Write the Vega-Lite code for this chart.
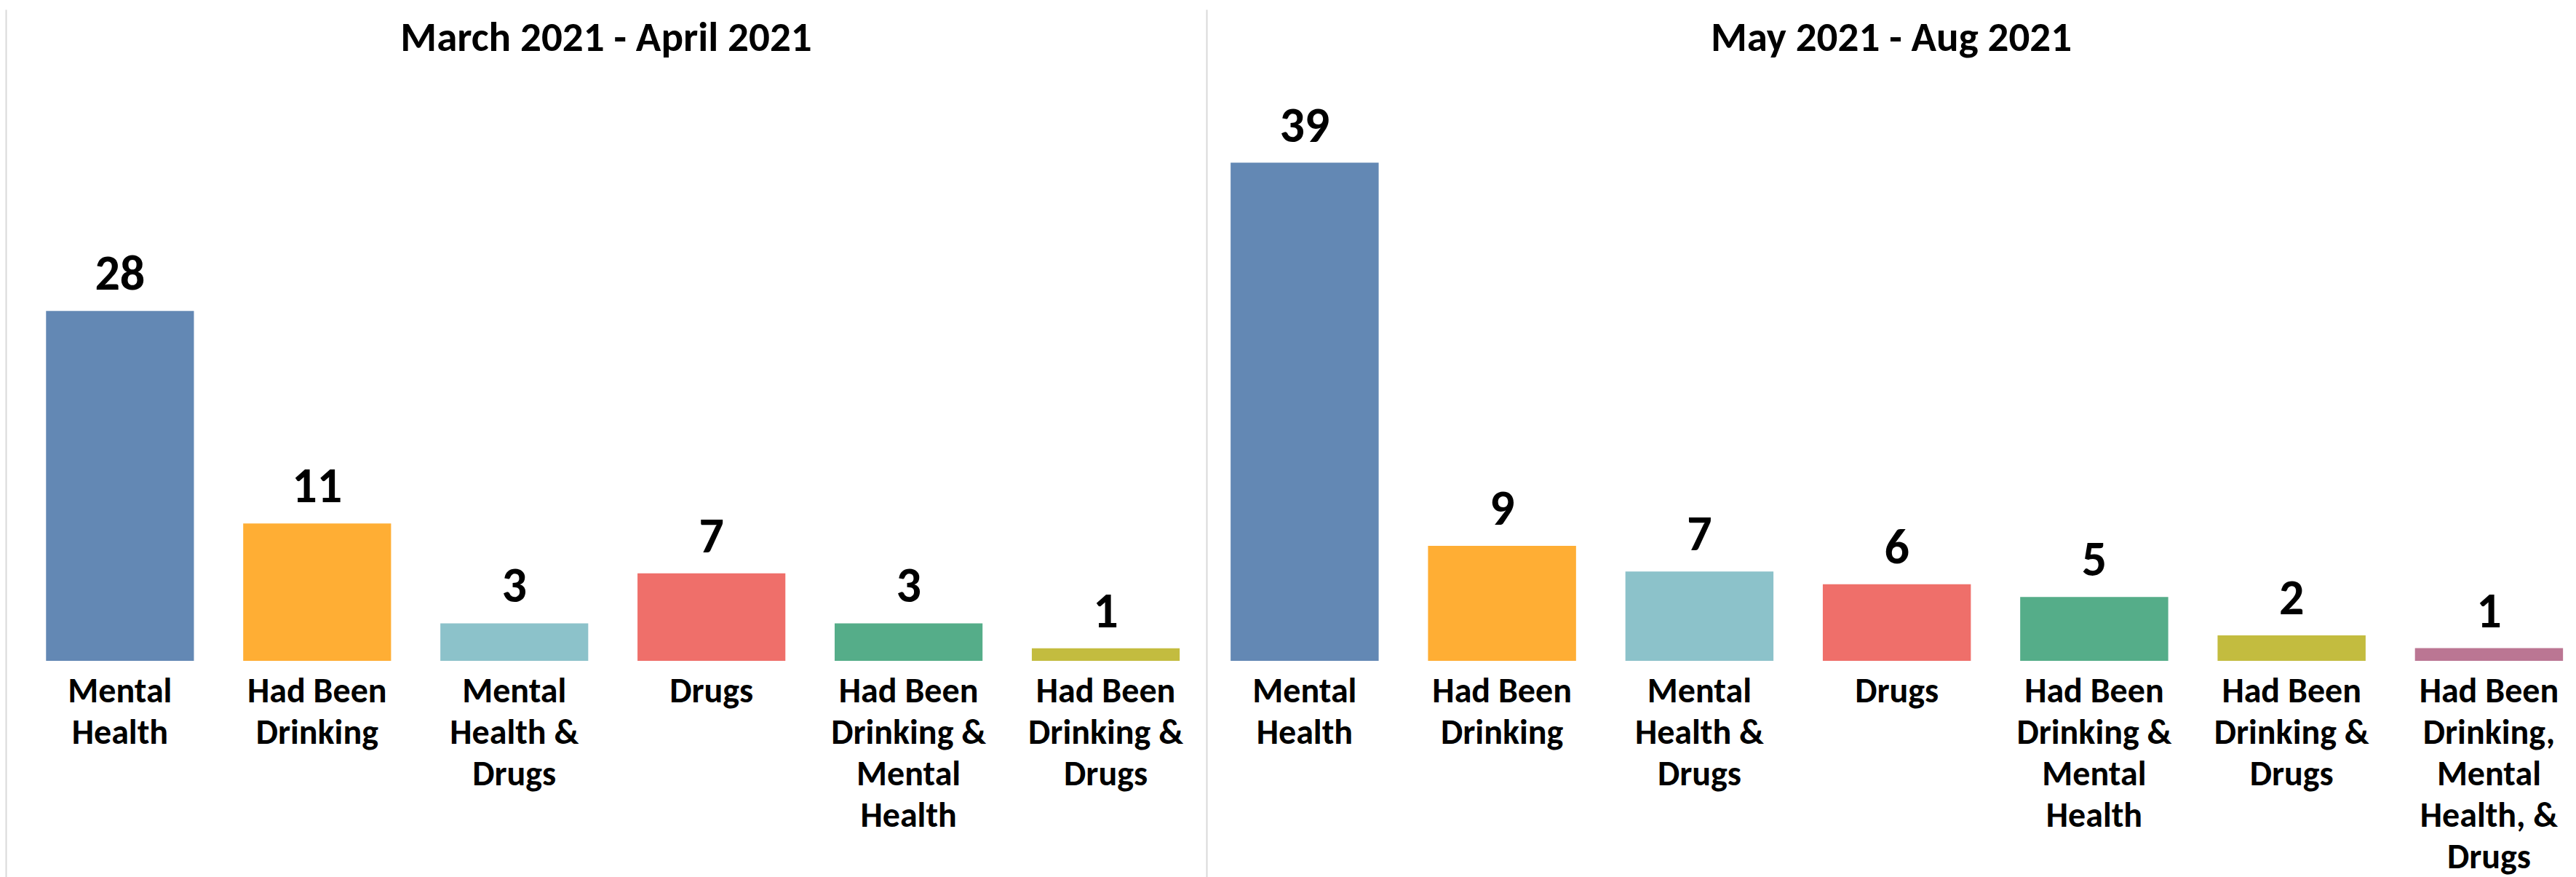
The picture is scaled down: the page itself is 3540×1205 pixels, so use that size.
{
  "$schema": "https://vega.github.io/schema/vega-lite/v6.json",
  "padding": {"left": 8, "top": 13, "right": 0, "bottom": 0},
  "autosize": {"type": "pad"},
  "background": "white",
  "spacing": 0,
  "config": {
    "view": {"stroke": null},
    "font": "Carlito, 'Liberation Sans Narrow', 'DejaVu Sans Condensed', sans-serif"
  },
  "datasets": {
    "p1": [
      {"category": "Mental Health", "count": 28},
      {"category": "Had Been Drinking", "count": 11},
      {"category": "Mental Health & Drugs", "count": 3},
      {"category": "Drugs", "count": 7},
      {"category": "Had Been Drinking & Mental Health", "count": 3},
      {"category": "Had Been Drinking & Drugs", "count": 1}
    ],
    "p2": [
      {"category": "Mental Health", "count": 39},
      {"category": "Had Been Drinking", "count": 9},
      {"category": "Mental Health & Drugs", "count": 7},
      {"category": "Drugs", "count": 6},
      {"category": "Had Been Drinking & Mental Health", "count": 5},
      {"category": "Had Been Drinking & Drugs", "count": 2},
      {"category": "Had Been Drinking, Mental Health, & Drugs", "count": 1}
    ]
  },
  "resolve": {"scale": {"x": "independent", "y": "independent"}},
  "hconcat": [
    {
      "width": 1650,
      "height": 1192,
      "data": {"name": "p1"},
      "title": {"text": "March 2021 - April 2021", "fontSize": 57, "fontWeight": "bold", "color": "black", "offset": -97, "baseline": "middle", "anchor": "middle"},
      "encoding": {
        "x": {
          "field": "category", "type": "nominal", "sort": null,
          "scale": {"paddingInner": 0.25, "paddingOuter": 0.17, "align": 0.6},
          "axis": {"title": null, "orient": "bottom", "offset": -297, "domain": false, "ticks": false, "labelAngle": 0, "labelFontSize": 48, "labelFontWeight": "bold", "labelColor": "black", "labelPadding": 18, "labelLineHeight": 57, "labelBaseline": "top", "labelLimit": 0,
            "labelExpr": "split(replace(replace(datum.label, 'Had Been', 'Had\u00a0Been'), ' &', '\u00a0&'), ' ')"}
        },
        "y": {
          "field": "count", "type": "quantitative",
          "scale": {"domain": [-17.3, 52.13], "nice": false, "zero": false},
          "axis": {"title": null, "labels": false, "ticks": false, "grid": false, "domain": true, "domainColor": "#d9d9d9", "domainWidth": 2}
        }
      },
      "layer": [
        {
          "mark": {"type": "bar"},
          "encoding": {
            "y2": {"datum": 0},
            "color": {
              "field": "category", "type": "nominal", "legend": null,
              "scale": {
                "domain": ["Mental Health", "Had Been Drinking", "Mental Health & Drugs", "Drugs", "Had Been Drinking & Mental Health", "Had Been Drinking & Drugs", "Had Been Drinking, Mental Health, & Drugs"],
                "range": ["#6388b4", "#ffae34", "#8cc2ca", "#ef6f6a", "#55ad89", "#c3bc3f", "#bb7693"]
              }
            }
          }
        },
        {
          "mark": {"type": "text", "dy": -29, "baseline": "alphabetic", "fontSize": 68, "fontWeight": "bold", "color": "black"},
          "encoding": {"text": {"field": "count", "type": "quantitative"}}
        }
      ]
    },
    {
      "width": 1882,
      "height": 1192,
      "data": {"name": "p2"},
      "title": {"text": "May 2021 - Aug 2021", "fontSize": 57, "fontWeight": "bold", "color": "black", "offset": -97, "baseline": "middle", "anchor": "middle"},
      "encoding": {
        "x": {
          "field": "category", "type": "nominal", "sort": null,
          "scale": {"paddingInner": 0.25, "paddingOuter": 0.094, "align": 0.65},
          "axis": {"title": null, "orient": "bottom", "offset": -297, "domain": false, "ticks": false, "labelAngle": 0, "labelFontSize": 48, "labelFontWeight": "bold", "labelColor": "black", "labelPadding": 18, "labelLineHeight": 57, "labelBaseline": "top", "labelLimit": 0,
            "labelExpr": "split(replace(replace(datum.label, 'Had Been', 'Had\u00a0Been'), ' &', '\u00a0&'), ' ')"}
        },
        "y": {
          "field": "count", "type": "quantitative",
          "scale": {"domain": [-16.92, 51.0], "nice": false, "zero": false},
          "axis": {"title": null, "labels": false, "ticks": false, "grid": false, "domain": true, "domainColor": "#d9d9d9", "domainWidth": 2}
        }
      },
      "layer": [
        {
          "mark": {"type": "bar"},
          "encoding": {
            "y2": {"datum": 0},
            "color": {
              "field": "category", "type": "nominal", "legend": null,
              "scale": {
                "domain": ["Mental Health", "Had Been Drinking", "Mental Health & Drugs", "Drugs", "Had Been Drinking & Mental Health", "Had Been Drinking & Drugs", "Had Been Drinking, Mental Health, & Drugs"],
                "range": ["#6388b4", "#ffae34", "#8cc2ca", "#ef6f6a", "#55ad89", "#c3bc3f", "#bb7693"]
              }
            }
          }
        },
        {
          "mark": {"type": "text", "dy": -29, "baseline": "alphabetic", "fontSize": 68, "fontWeight": "bold", "color": "black"},
          "encoding": {"text": {"field": "count", "type": "quantitative"}}
        }
      ]
    }
  ]
}
